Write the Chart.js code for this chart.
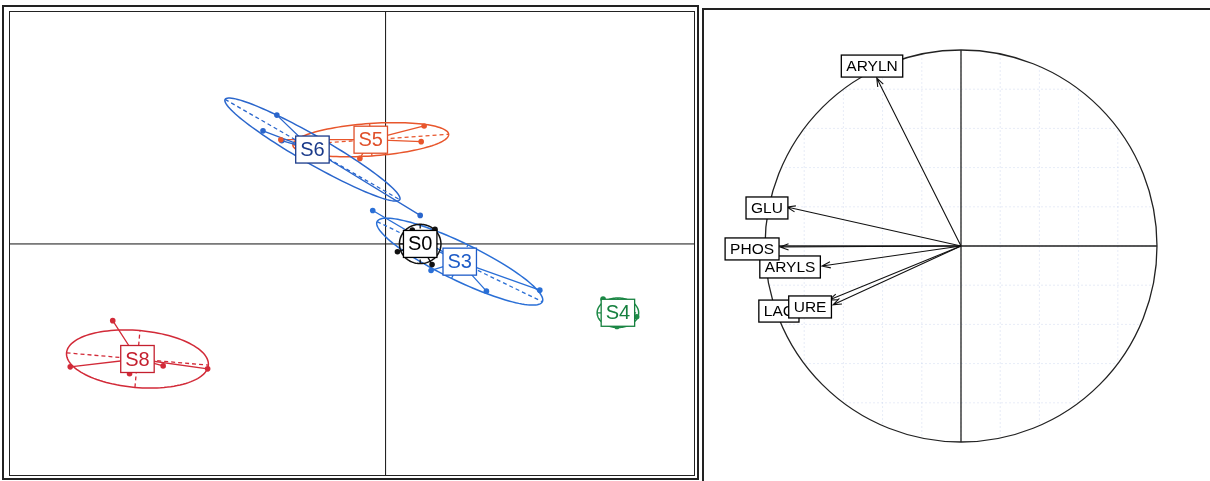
<!DOCTYPE html>
<html>
<head>
<meta charset="utf-8">
<script src="https://cdn.jsdelivr.net/npm/chart.js@4.4.1/dist/chart.umd.min.js"></script>
<style>
html, body { margin: 0; padding: 0; background: #fff; }
#wrap { position: relative; width: 1210px; height: 481px; overflow: hidden; }
#left { position: absolute; left: 0; top: 0; width: 700px; height: 481px; }
#right { position: absolute; left: 700px; top: 0; width: 510px; height: 481px; }
</style>
</head>
<body>
<div id="wrap">
  <div id="left"><canvas id="scores" width="700" height="481"></canvas></div>
  <div id="right"><canvas id="circle" width="510" height="481"></canvas></div>
</div>
<script>
// ---- factorial map: groups (class centres, ellipses, samples) ----
const groupNames = ['S8', 'S4', 'S3', 'S0', 'S5', 'S6'];
const groupColors = ['#d22a38', '#1d8a47', '#2a6fd6', '#111111', '#e8562c', '#2a66cc'];
const labelColors = ['#c41f2e', '#16803f', '#1e5cc8', '#000000', '#e0502a', '#1a3a8a'];
const centerX = [-2.51, 2.35, 0.75, 0.35, -0.15, -0.74];
const centerY = [-1.17, -0.70, -0.18, 0.00, 1.06, 0.96];
const ellipseA = [0.72, 0.21, 0.93, 0.21, 0.79, 1.02];
const ellipseB = [0.29, 0.15, 0.19, 0.20, 0.165, 0.14];
const ellipseAngle = [-5, 0, -26, 0, 4, -30];
const samplesX = [
  [-2.76, -3.19, -2.59, -2.25, -1.80],
  [2.20, 2.34, 2.54],
  [1.56, 1.02, 0.46, -0.13],
  [0.27, 0.50, 0.12, 0.47],
  [0.39, 0.36, -0.26, -1.06],
  [-1.24, -1.10, -1.05, 0.35]
];
const samplesY = [
  [-0.78, -1.25, -1.32, -1.24, -1.27],
  [-0.56, -0.84, -0.74],
  [-0.47, -0.48, -0.27, 0.34],
  [0.14, 0.15, -0.08, -0.21],
  [1.20, 1.04, 0.87, 1.06],
  [1.15, 1.31, 1.05, 0.29]
];

// ---- correlation circle: variables ----
const varNames = ['ARYLN', 'GLU', 'LAC', 'URE', 'ARYLS', 'PHOS'];
const varX = [-0.43, -0.888, -0.673, -0.653, -0.709, -0.923];
const varY = [0.857, 0.199, -0.276, -0.300, -0.102, -0.005];
const varLabelX = [-0.454, -0.990, -0.929, -0.770, -0.872, -1.066];
const varLabelY = [0.918, 0.194, -0.332, -0.311, -0.107, -0.015];

const FONT = '"Liberation Sans", Arial, sans-serif';

function labelBox(ctx, text, px, py, size, color, padX, h) {
    ctx.font = size + 'px ' + FONT;
    const w = ctx.measureText(text).width + 2 * padX;
    ctx.fillStyle = '#fff';
    ctx.fillRect(px - w / 2, py - h / 2, w, h);
    ctx.strokeStyle = color;
    ctx.lineWidth = 1.3;
    ctx.strokeRect(px - w / 2, py - h / 2, w, h);
    ctx.fillStyle = color;
    ctx.textAlign = 'center';
    ctx.textBaseline = 'middle';
    ctx.fillText(text, px, py + 1);
}

const scoresPlugin = {
    id: 'scoresPlugin',
    beforeDatasetsDraw(chart) {
        const ctx = chart.ctx, xs = chart.scales.x, ys = chart.scales.y;
        ctx.save();
        // frames
        ctx.strokeStyle = '#222';
        ctx.lineWidth = 2;
        ctx.strokeRect(3, 6, 695, 473);
        ctx.lineWidth = 1;
        ctx.strokeRect(9.5, 11.5, 685, 464);
        // axes
        const x0 = xs.getPixelForValue(0), y0 = ys.getPixelForValue(0);
        ctx.strokeStyle = '#111';
        ctx.beginPath();
        ctx.moveTo(x0, 12); ctx.lineTo(x0, 475);
        ctx.moveTo(10, y0); ctx.lineTo(694, y0);
        ctx.stroke();

        for (let g = 0; g < groupNames.length; g++) {
            const cx = centerX[g], cy = centerY[g];
            const t = ellipseAngle[g] * Math.PI / 180;
            const a = ellipseA[g], b = ellipseB[g];
            const P = (ex, ey) => [
                xs.getPixelForValue(cx + ex * Math.cos(t) - ey * Math.sin(t)),
                ys.getPixelForValue(cy + ex * Math.sin(t) + ey * Math.cos(t))
            ];
            ctx.strokeStyle = groupColors[g];
            ctx.lineWidth = 1.5;
            ctx.setLineDash([]);
            ctx.beginPath();
            for (let i = 0; i <= 120; i++) {
                const u = i / 120 * 2 * Math.PI;
                const p = P(a * Math.cos(u), b * Math.sin(u));
                if (i === 0) ctx.moveTo(p[0], p[1]); else ctx.lineTo(p[0], p[1]);
            }
            ctx.stroke();
            // ellipse axes
            ctx.lineWidth = 1.3;
            ctx.setLineDash([4, 3]);
            ctx.beginPath();
            let p = P(-a, 0); ctx.moveTo(p[0], p[1]);
            p = P(a, 0); ctx.lineTo(p[0], p[1]);
            p = P(0, -b); ctx.moveTo(p[0], p[1]);
            p = P(0, b); ctx.lineTo(p[0], p[1]);
            ctx.stroke();
            // star
            ctx.setLineDash([]);
            ctx.beginPath();
            const pc = [xs.getPixelForValue(cx), ys.getPixelForValue(cy)];
            for (let k = 0; k < samplesX[g].length; k++) {
                ctx.moveTo(pc[0], pc[1]);
                ctx.lineTo(xs.getPixelForValue(samplesX[g][k]), ys.getPixelForValue(samplesY[g][k]));
            }
            ctx.stroke();
        }
        ctx.restore();
    },
    afterDatasetsDraw(chart) {
        const ctx = chart.ctx, xs = chart.scales.x, ys = chart.scales.y;
        ctx.save();
        const order = [4, 5, 2, 3, 0, 1];
        for (const g of order) {
            labelBox(ctx, groupNames[g], xs.getPixelForValue(centerX[g]),
                ys.getPixelForValue(centerY[g]), 20, labelColors[g], 4.5, 27);
        }
        ctx.restore();
    }
};

const circlePlugin = {
    id: 'circlePlugin',
    beforeDatasetsDraw(chart) {
        const ctx = chart.ctx, xs = chart.scales.x, ys = chart.scales.y;
        ctx.save();
        // frame
        ctx.strokeStyle = '#222';
        ctx.lineWidth = 2;
        ctx.beginPath();
        ctx.moveTo(3, 481); ctx.lineTo(3, 9); ctx.lineTo(510, 9);
        ctx.stroke();
        const cx = xs.getPixelForValue(0), cy = ys.getPixelForValue(0);
        const r = xs.getPixelForValue(1) - cx;
        // grid clipped to circle
        ctx.save();
        ctx.beginPath();
        ctx.arc(cx, cy, r, 0, 2 * Math.PI);
        ctx.clip();
        ctx.strokeStyle = 'rgba(170,185,225,0.28)';
        ctx.lineWidth = 1;
        ctx.setLineDash([2, 2]);
        ctx.beginPath();
        for (let v = -0.8; v <= 0.81; v += 0.2) {
            const gx = xs.getPixelForValue(v), gy = ys.getPixelForValue(v);
            ctx.moveTo(gx, cy - r); ctx.lineTo(gx, cy + r);
            ctx.moveTo(cx - r, gy); ctx.lineTo(cx + r, gy);
        }
        ctx.stroke();
        ctx.restore();
        // circle and axes
        ctx.strokeStyle = '#222';
        ctx.lineWidth = 1.3;
        ctx.beginPath();
        ctx.arc(cx, cy, r, 0, 2 * Math.PI);
        ctx.stroke();
        ctx.beginPath();
        ctx.moveTo(cx, ys.getPixelForValue(1)); ctx.lineTo(cx, ys.getPixelForValue(-1));
        ctx.moveTo(xs.getPixelForValue(-1), cy); ctx.lineTo(xs.getPixelForValue(1), cy);
        ctx.stroke();
        // arrows
        ctx.lineWidth = 1.1;
        ctx.strokeStyle = '#111';
        for (let i = 0; i < varNames.length; i++) {
            const tx = xs.getPixelForValue(varX[i]), ty = ys.getPixelForValue(varY[i]);
            const ang = Math.atan2(ty - cy, tx - cx);
            const hl = 9, ha = 0.35;
            ctx.beginPath();
            ctx.moveTo(cx, cy); ctx.lineTo(tx, ty);
            ctx.moveTo(tx - hl * Math.cos(ang - ha), ty - hl * Math.sin(ang - ha));
            ctx.lineTo(tx, ty);
            ctx.lineTo(tx - hl * Math.cos(ang + ha), ty - hl * Math.sin(ang + ha));
            ctx.stroke();
        }
        ctx.restore();
    },
    afterDatasetsDraw(chart) {
        const ctx = chart.ctx, xs = chart.scales.x, ys = chart.scales.y;
        ctx.save();
        for (let i = 0; i < varNames.length; i++) {
            labelBox(ctx, varNames[i], xs.getPixelForValue(varLabelX[i]),
                ys.getPixelForValue(varLabelY[i]), 15.5, '#000', 5, 22);
        }
        ctx.restore();
    }
};

function hiddenScales(xmin, xmax, ymin, ymax) {
    return {
        x: { type: 'linear', display: false, min: xmin, max: xmax },
        y: { type: 'linear', display: false, min: ymin, max: ymax }
    };
}

const scoreDatasets = groupNames.map((name, g) => ({
    label: name,
    data: samplesX[g].map((x, k) => ({ x: x, y: samplesY[g][k] })),
    pointRadius: 2.8,
    pointBackgroundColor: groupColors[g],
    pointBorderWidth: 0,
    showLine: false
}));

new Chart(document.getElementById('scores'), {
    type: 'scatter',
    data: { datasets: scoreDatasets },
    options: {
        responsive: false,
        animation: false,
        layout: { padding: 0 },
        plugins: { legend: { display: false }, tooltip: { enabled: false } },
        scales: hiddenScales(-3.86, 3.14, -2.37, 2.44)
    },
    plugins: [scoresPlugin]
});

new Chart(document.getElementById('circle'), {
    type: 'scatter',
    data: {
        datasets: [{
            label: 'variables',
            data: varX.map((x, i) => ({ x: x, y: varY[i] })),
            pointRadius: 0
        }]
    },
    options: {
        responsive: false,
        animation: false,
        layout: { padding: 0 },
        plugins: { legend: { display: false }, tooltip: { enabled: false } },
        scales: hiddenScales(-261 / 196, 249 / 196, -235 / 196, 246 / 196)
    },
    plugins: [circlePlugin]
});
</script>
</body>
</html>
